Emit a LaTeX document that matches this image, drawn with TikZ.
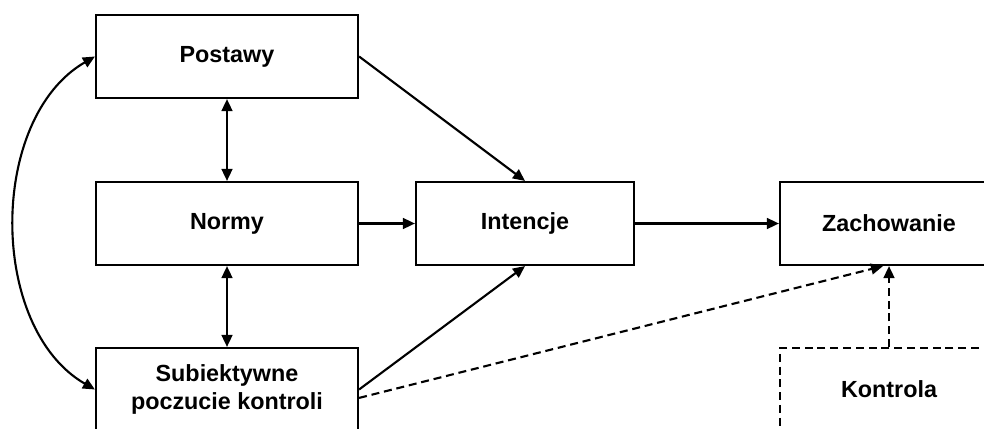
\documentclass[tikz,border=0pt]{standalone}
\usepackage{fontspec}
\setmainfont{Liberation Sans}
\usetikzlibrary{arrows.meta}

\begin{document}
\begin{tikzpicture}[x=0.025cm, y=-0.025cm,
	>={Triangle[length=0.3cm, width=0.27cm]},
	box/.style={rectangle, draw=black, line width=1.5pt, fill=white, minimum width=6.55cm, minimum height=2.075cm, align=center, font=\fontsize{16.6}{19.9}\selectfont\bfseries},
	smallbox/.style={box, minimum width=5.45cm},
	dashbox/.style={smallbox, dash pattern=on 0.2cm off 0.12cm},
	link/.style={line width=1.5pt},
	dashlink/.style={link, dash pattern=on 0.2cm off 0.12cm},
	]
	\useasboundingbox (0,0) rectangle (984,428);
	\clip (0,0) rectangle (984,428);
	%Nodes
	\node[box] (post) at (227,56.5) {Postawy};
	%
	\node[box] (norm) at (227,223.5) {Normy};
	%
	\node[box] (sub) at (227,389.5) {Subiektywne\\poczucie kontroli};
	%
	\node[smallbox] (int) at (525,223.5) {Intencje};
	%
	\node[smallbox] (zach) at (889,223.5) {Zachowanie};
	%
	\node[dashbox] (kon) at (889,389.5) {Kontrola};
	
	%Links
	\draw[link, <->] (post.south) -- (norm.north);
	\draw[link, <->] (norm.south) -- (sub.north);
	\draw[link, <->] (post.west) to[out=210, in=150, looseness=0.95] (sub.west);
	%
	\draw[link, ->] (post.east) -- (int.north);
	\draw[link, ->] (norm.east) -- (int.west);
	\draw[link, ->] (sub.east) -- (int.south);
	\draw[link, ->] (int.east) -- (zach.west);
	%
	\draw[dashlink, ->] ([yshift=-0.21cm]sub.east) -- ([xshift=-0.15cm]zach.south);
	\draw[dashlink, ->] (kon.north) -- (zach.south);
\end{tikzpicture}
\end{document}
